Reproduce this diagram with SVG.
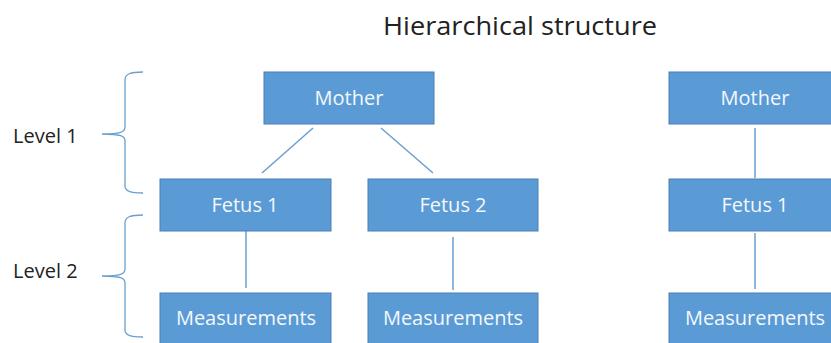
<svg xmlns="http://www.w3.org/2000/svg" width="831" height="343" viewBox="0 0 831 343">
<style>
.box{fill:#5B9BD5;stroke:#4A7FB3;stroke-width:1}
.lbl{font-family:"Open Sans","Noto Sans",sans-serif;font-size:20px;fill:#F4F8FC;text-anchor:middle}
.txt{font-family:"Open Sans","Noto Sans",sans-serif;fill:#222222}
.con{stroke:#6A9FD0;stroke-width:1.5;fill:none}
.brace{stroke:#6A9FD0;stroke-width:1.3;fill:none}
</style>
<rect width="831" height="343" fill="#FFFFFF"/>
<text class="txt" x="383" y="35" font-size="25" textLength="274" lengthAdjust="spacingAndGlyphs">Hierarchical structure</text>
<text class="txt" x="13" y="143" font-size="20">Level 1</text>
<text class="txt" x="13" y="278" font-size="20">Level 2</text>
<path class="brace" d="M143,72 C130,72 125,74 125,80 L125,127 C125,132 121,134 102,134 C121,134 125,136 125,141 L125,186 C125,191 130,193 143,193"/>
<path class="brace" d="M143,215 C130,215 125,217 125,223 L125,269 C125,274 121,276 102,276 C121,276 125,278 125,283 L125,330 C125,335 130,337 143,337"/>
<g id="connectors">
<line class="con" x1="313" y1="128" x2="262" y2="173"/>
<line class="con" x1="381" y1="128" x2="433" y2="173"/>
<line class="con" x1="246" y1="231" x2="246" y2="288"/>
<line class="con" x1="453" y1="237" x2="453" y2="290"/>
<line class="con" x1="755" y1="128" x2="755" y2="178"/>
<line class="con" x1="755" y1="233" x2="755" y2="289"/>
</g>
<g id="mother1"><rect class="box" x="264" y="72" width="170" height="52"/><text class="lbl" x="349" y="105">Mother</text></g>
<g id="fetus1"><rect class="box" x="160" y="179" width="171" height="52"/><text class="lbl" x="245" y="212">Fetus 1</text></g>
<g id="fetus2"><rect class="box" x="368" y="179" width="170" height="52"/><text class="lbl" x="453" y="212">Fetus 2</text></g>
<g id="meas1"><rect class="box" x="160" y="293" width="171" height="52"/><text class="lbl" x="246" y="325">Measurements</text></g>
<g id="meas2"><rect class="box" x="368" y="293" width="170" height="52"/><text class="lbl" x="453" y="325">Measurements</text></g>
<g id="mother2"><rect class="box" x="669" y="72" width="172" height="52"/><text class="lbl" x="755" y="105">Mother</text></g>
<g id="fetus3"><rect class="box" x="669" y="179" width="172" height="52"/><text class="lbl" x="755" y="212">Fetus 1</text></g>
<g id="meas3"><rect class="box" x="669" y="293" width="172" height="52"/><text class="lbl" x="755" y="325">Measurements</text></g>
</svg>
